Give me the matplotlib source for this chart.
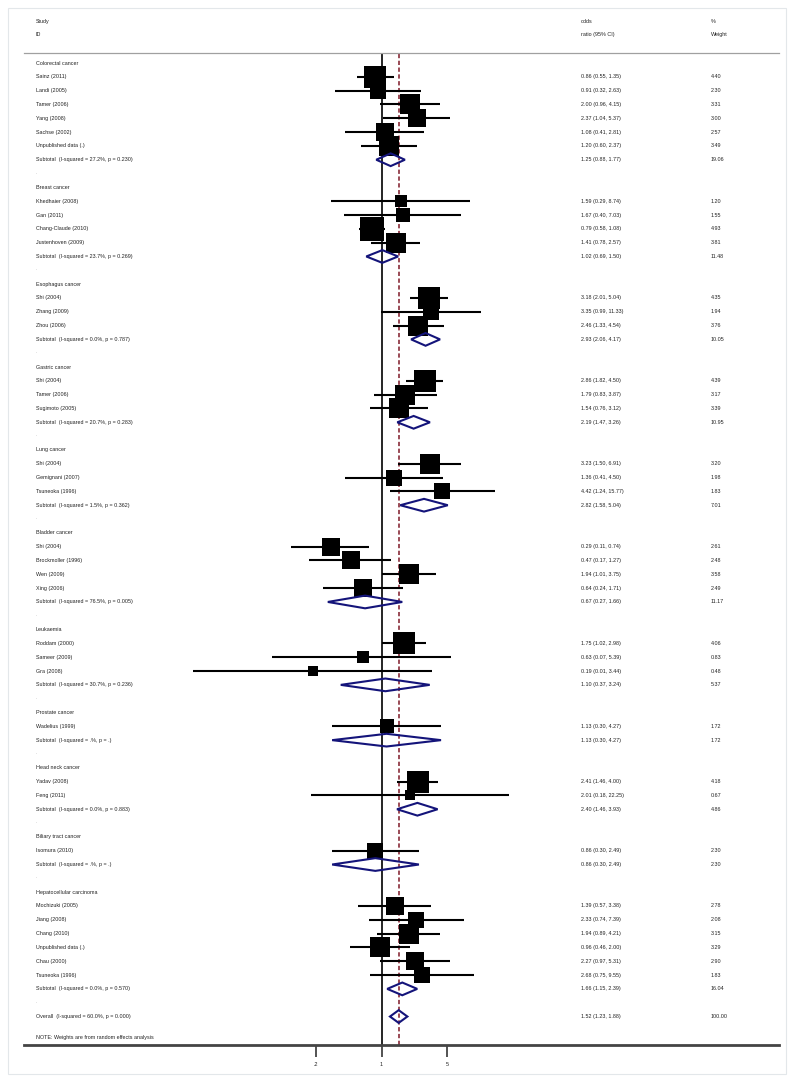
import matplotlib
matplotlib.use('Agg')
import matplotlib.pyplot as plt
import matplotlib.transforms as mtransforms
from matplotlib.patches import Polygon, Rectangle
import numpy as np

plt.rcParams['font.family'] = ['Liberation Sans', 'DejaVu Sans']

# data
groups = ['Colorectal cancer', 'Breast cancer', 'Esophagus cancer', 'Gastric cancer',
          'Lung cancer', 'Bladder cancer', 'Leukaemia', 'Prostate cancer',
          'Head neck cancer', 'Biliary tract cancer', 'Hepatocellular carcinoma']

study_group = [0, 0, 0, 0, 0, 0, 1, 1, 1, 1, 2, 2, 2, 3, 3, 3, 4, 4, 4,
               5, 5, 5, 5, 6, 6, 6, 7, 8, 8, 9, 10, 10, 10, 10, 10, 10]
study_names = ['Sainz (2011)', 'Landi (2005)', 'Tamer (2006)', 'Yang (2008)', 'Sachse (2002)',
               'Unpublished data (.)',
               'Khedhaier (2008)', 'Gan (2011)', 'Chang-Claude (2010)', 'Justenhoven (2009)',
               'Shi (2004)', 'Zhang (2009)', 'Zhou (2006)',
               'Shi (2004)', 'Tamer (2006)', 'Sugimoto (2005)',
               'Shi (2004)', 'Gemignani (2007)', 'Tsuneoka (1996)',
               'Shi (2004)', 'Brockmoller (1996)', 'Wen (2009)', 'Xing (2006)',
               'Roddam (2000)', 'Sameer (2009)', 'Gra (2008)',
               'Wadelius (1999)',
               'Yadav (2008)', 'Feng (2011)',
               'Isomura (2010)',
               'Mochizuki (2005)', 'Jiang (2008)', 'Chang (2010)', 'Unpublished data (.)',
               'Chau (2000)', 'Tsuneoka (1996)']
study_or = [0.86, 0.91, 2.00, 2.37, 1.08, 1.20,
            1.59, 1.67, 0.79, 1.41,
            3.18, 3.35, 2.46,
            2.86, 1.79, 1.54,
            3.23, 1.36, 4.42,
            0.29, 0.47, 1.94, 0.64,
            1.75, 0.63, 0.19,
            1.13,
            2.41, 2.01,
            0.86,
            1.39, 2.33, 1.94, 0.96, 2.27, 2.68]
study_lo = [0.55, 0.32, 0.96, 1.04, 0.41, 0.60,
            0.29, 0.40, 0.58, 0.78,
            2.01, 0.99, 1.33,
            1.82, 0.83, 0.76,
            1.50, 0.41, 1.24,
            0.11, 0.17, 1.01, 0.24,
            1.02, 0.07, 0.01,
            0.30,
            1.46, 0.18,
            0.30,
            0.57, 0.74, 0.89, 0.46, 0.97, 0.75]
study_hi = [1.35, 2.63, 4.15, 5.37, 2.81, 2.37,
            8.74, 7.03, 1.08, 2.57,
            5.04, 11.33, 4.54,
            4.50, 3.87, 3.12,
            6.91, 4.50, 15.77,
            0.74, 1.27, 3.75, 1.71,
            2.98, 5.39, 3.44,
            4.27,
            4.00, 22.25,
            2.49,
            3.38, 7.39, 4.21, 2.00, 5.31, 9.55]
study_w = [4.40, 2.30, 3.31, 3.00, 2.57, 3.49,
           1.20, 1.55, 4.93, 3.81,
           4.35, 1.94, 3.76,
           4.39, 3.17, 3.39,
           3.20, 1.98, 1.83,
           2.61, 2.48, 3.58, 2.49,
           4.06, 0.83, 0.48,
           1.72,
           4.18, 0.67,
           2.30,
           2.78, 2.08, 3.15, 3.29, 2.90, 1.83]

sub_het = ['I-squared = 27.2%, p = 0.230', 'I-squared = 23.7%, p = 0.269',
           'I-squared = 0.0%, p = 0.787', 'I-squared = 20.7%, p = 0.283',
           'I-squared = 1.5%, p = 0.362', 'I-squared = 76.5%, p = 0.005',
           'I-squared = 30.7%, p = 0.236', 'I-squared = .%, p = .',
           'I-squared = 0.0%, p = 0.883', 'I-squared = .%, p = .',
           'I-squared = 0.0%, p = 0.570']
sub_or = [1.25, 1.02, 2.93, 2.19, 2.82, 0.67, 1.10, 1.13, 2.40, 0.86, 1.66]
sub_lo = [0.88, 0.69, 2.06, 1.47, 1.58, 0.27, 0.37, 0.30, 1.46, 0.30, 1.15]
sub_hi = [1.77, 1.50, 4.17, 3.26, 5.04, 1.66, 3.24, 4.27, 3.93, 2.49, 2.39]
sub_w = [19.06, 11.48, 10.05, 10.95, 7.01, 11.17, 5.37, 1.72, 4.86, 2.30, 16.04]

overall_label = 'Overall  (I-squared = 60.0%, p = 0.000)'
overall_or, overall_lo, overall_hi, overall_w = 1.52, 1.23, 1.88, 100.00
note = 'NOTE: Weights are from random effects analysis'

W, H = 794, 1083
fig = plt.figure(figsize=(W / 100, H / 100), dpi=100)
ax = fig.add_axes([24 / W, 38 / H, 755 / W, 992 / H])

# log x scale: 1 at pixel 381.5, one decade = 94.4 px
ax.set_xscale('log')
ax.set_xlim(10 ** ((24 - 381.5) / 94.4), 10 ** ((779 - 381.5) / 94.4))
ax.set_ylim(72.06, 0.276)

txt = mtransforms.blended_transform_factory(fig.transFigure, ax.transData)
tc = '#222222'
fs = 3.85
x_lab, x_or, x_w = 36 / W, 581 / W, 711 / W

def ci_text(o, l, h):
    return f'{o:.2f} ({l:.2f}, {h:.2f})'

def diamond(row, o, l, h):
    pts = [(l, row), (o, row - 0.46), (h, row), (o, row + 0.46)]
    ax.add_patch(Polygon(pts, closed=True, facecolor='none', edgecolor='#14147a',
                         lw=1.5, zorder=4))

row = 1
for g, name in enumerate(groups):
    ax.text(x_lab, row, name, transform=txt, fontsize=fs, color=tc, va='center')
    row += 1
    for i in range(len(study_names)):
        if study_group[i] != g:
            continue
        ax.plot([study_lo[i], study_hi[i]], [row, row], color='black', lw=1.5,
                solid_capstyle='butt', zorder=3)
        ms = 0.72 * (3 + 19 * np.sqrt(study_w[i] / 4.4))
        ax.plot(study_or[i], row, marker='s', ms=ms, color='black', mew=0, zorder=3)
        ax.text(x_lab, row, study_names[i], transform=txt, fontsize=fs, color=tc, va='center')
        ax.text(x_or, row, ci_text(study_or[i], study_lo[i], study_hi[i]), transform=txt,
                fontsize=fs, color=tc, va='center')
        ax.text(x_w, row, f'{study_w[i]:.2f}', transform=txt, fontsize=fs, color=tc, va='center')
        row += 1
    diamond(row, sub_or[g], sub_lo[g], sub_hi[g])
    ax.text(x_lab, row, f'Subtotal  ({sub_het[g]})', transform=txt, fontsize=fs, color=tc,
            va='center')
    ax.text(x_or, row, ci_text(sub_or[g], sub_lo[g], sub_hi[g]), transform=txt,
            fontsize=fs, color=tc, va='center')
    ax.text(x_w, row, f'{sub_w[g]:.2f}', transform=txt, fontsize=fs, color=tc, va='center')
    row += 1
    ax.text(x_lab, row - 0.1, '.', transform=txt, fontsize=fs, color='#aaaaaa', va='center')
    row += 1

diamond(row, overall_or, overall_lo, overall_hi)
ax.text(x_lab, row, overall_label, transform=txt, fontsize=fs, color=tc, va='center')
ax.text(x_or, row, ci_text(overall_or, overall_lo, overall_hi), transform=txt,
        fontsize=fs, color=tc, va='center')
ax.text(x_w, row, f'{overall_w:.2f}', transform=txt, fontsize=fs, color=tc, va='center')
ax.text(x_lab, row + 1.55, note, transform=txt, fontsize=fs, color=tc, va='center')

# headers above the top rule
ax.text(x_lab, -1.97, 'Study', transform=txt, fontsize=fs, color=tc, va='center', clip_on=False)
ax.text(x_lab, -1.03, 'ID', transform=txt, fontsize=fs, color=tc, va='center', clip_on=False)
ax.text(x_or, -1.97, 'odds', transform=txt, fontsize=fs, color=tc, va='center', clip_on=False)
ax.text(x_or, -1.03, 'ratio (95% CI)', transform=txt, fontsize=fs, color=tc, va='center',
        clip_on=False)
ax.text(x_w, -1.97, '%', transform=txt, fontsize=fs, color=tc, va='center', clip_on=False)
ax.text(x_w, -1.03, 'Weight', transform=txt, fontsize=fs, color=tc, va='center', clip_on=False)

# reference lines
ax.axvline(1, color='black', lw=1.2, zorder=2)
ax.axvline(overall_or, color='#9a4a55', lw=1.4, dashes=(2.2, 1.3), zorder=2)

# spines and ticks
for s in ['left', 'right']:
    ax.spines[s].set_visible(False)
ax.spines['top'].set_color('#a0a0a0')
ax.spines['top'].set_linewidth(0.9)
ax.spines['bottom'].set_color('#444444')
ax.spines['bottom'].set_linewidth(2)
ax.set_yticks([])
ax.set_xticks([0.2, 1, 5])
ax.set_xticklabels(['.2', '1', '5'])
ax.minorticks_off()
ax.tick_params(axis='x', which='major', length=8.5, width=1.3, color='#444444',
               labelsize=fs, labelcolor=tc, pad=4)

# faint outer frame
fig.patches.append(Rectangle((8 / W, 1 - 1074 / H), 778 / W, 1066 / H, transform=fig.transFigure,
                             fill=False, edgecolor='#e3e7ea', lw=0.8))

fig.savefig('out.png', dpi=100, facecolor='white')
